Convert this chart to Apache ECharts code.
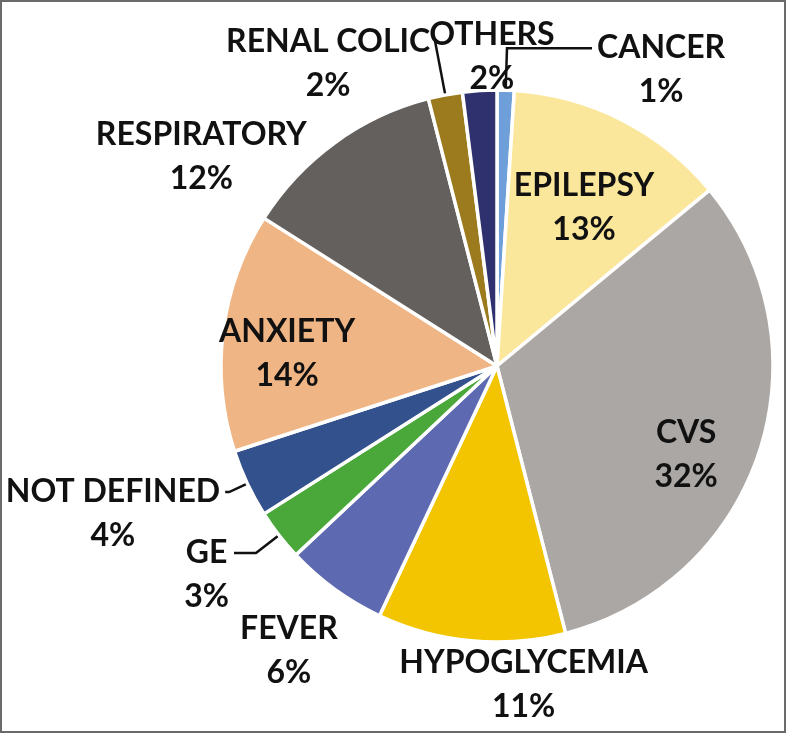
<!DOCTYPE html>
<html>
<head>
<meta charset="utf-8">
<script src="https://cdn.jsdelivr.net/npm/echarts@6/dist/echarts.min.js"></script>
<style>
  html, body { margin: 0; padding: 0; background: #fff; }
  #chart { width: 786px; height: 733px; }
</style>
</head>
<body>
<div id="chart"></div>
<script>
// ---- data ----
const categories = ['CANCER', 'EPILEPSY', 'CVS', 'HYPOGLYCEMIA', 'FEVER', 'GE',
  'NOT DEFINED', 'ANXIETY', 'RESPIRATORY', 'RENAL COLIC', 'OTHERS'];
const percentValues = [1, 13, 32, 11, 6, 3, 4, 14, 12, 2, 2];

// ---- styles ----
const sliceColors = ['#6f9fd8', '#fbe79b', '#aba7a4', '#f3c500', '#5d69b1', '#4aa83b',
  '#33518c', '#f0b584', '#63605d', '#9b7b1e', '#2e316e'];
const insideLabels = { 'EPILEPSY': 1, 'CVS': 1, 'ANXIETY': 1 };
const lineLabels = {            // [radial length, horizontal length]
  'CANCER': [42, 85],
  'RENAL COLIC': [54, 0],
  'GE': [29, 22],
  'NOT DEFINED': [20, 4]
};
const labelNudge = {            // offsets of labels from their default place
  'EPILEPSY': [23, -33],
  'CVS': [55, 45],
  'ANXIETY': [-70, 5],
  'OTHERS': [80, -34],
  'RESPIRATORY': [-23, 14],
  'FEVER': [8, 61],
  'HYPOGLYCEMIA': [182, 44]
};

const FONT = 'Lato, "DejaVu Sans", sans-serif';
const rich = {
  n: { fontFamily: FONT, fontSize: 32, fontWeight: 'bold', color: '#111', lineHeight: 44, align: 'center' },
  p: { fontFamily: FONT, fontSize: 32, fontWeight: 'bold', color: '#111', lineHeight: 44, align: 'center' }
};

const seriesData = categories.map((name, i) => {
  const item = { name: name, value: percentValues[i], itemStyle: { color: sliceColors[i] } };
  if (insideLabels[name]) {
    item.label = { position: 'inside' };
    item.labelLine = { show: false };
  } else if (lineLabels[name]) {
    item.label = { position: 'outside', padding: [44, 0, 0, 0] };
    item.labelLine = { show: true, length: lineLabels[name][0], length2: lineLabels[name][1] };
  } else {
    item.label = { position: 'outside' };
    item.labelLine = { show: false, length: 0, length2: 0 };
  }
  return item;
});

const chart = echarts.init(document.getElementById('chart'), null, { renderer: 'canvas' });
chart.setOption({
  backgroundColor: '#ffffff',
  animation: false,
  graphic: [{
    type: 'rect',
    shape: { x: 1, y: 1, width: 784, height: 731 },
    style: { fill: 'none', stroke: '#6a6a6a', lineWidth: 2 },
    z: 100
  }],
  series: [{
    type: 'pie',
    center: [497, 366],
    radius: [0, 276],
    startAngle: 90,
    clockwise: true,
    avoidLabelOverlap: false,
    itemStyle: { borderColor: '#ffffff', borderWidth: 3.5 },
    label: {
      show: true,
      formatter: (p) => '{n|' + p.name + '}\n{p|' + p.value + '%}',
      rich: rich,
      overflow: 'none'
    },
    labelLine: {
      lineStyle: { color: '#111', width: 2.5 },
      smooth: false
    },
    labelLayout: (params) => {
      const name = categories[params.dataIndex];
      const n = labelNudge[name];
      if (!n) return {};
      return { dx: n[0], dy: n[1] };
    },
    emphasis: { disabled: true },
    data: seriesData
  }]
});
</script>
</body>
</html>
